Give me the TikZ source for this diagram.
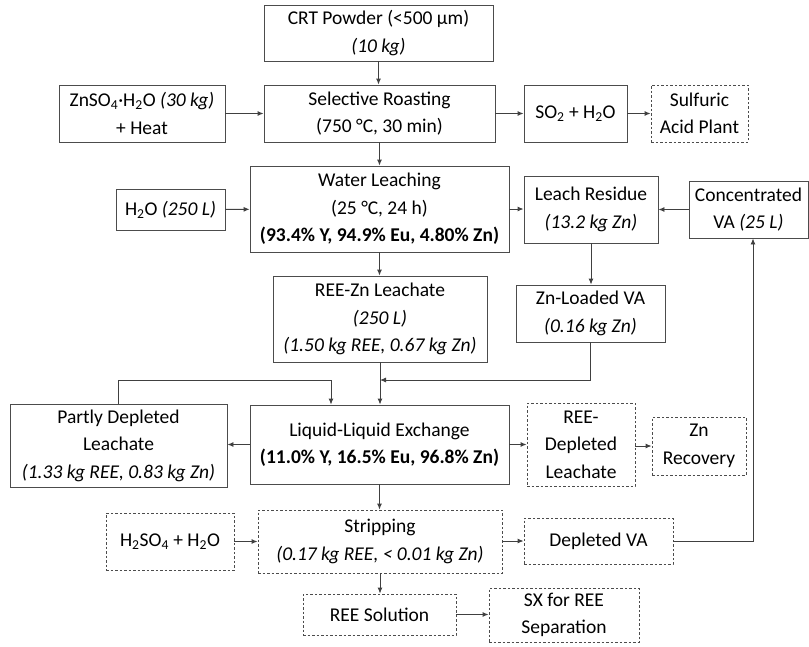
\documentclass[tikz,border=0pt]{standalone}
\usepackage{fontspec}
\setmainfont{Carlito}
\usetikzlibrary{arrows.meta,calc}
\begin{document}
\begin{tikzpicture}[x=1pt,y=-1pt,
  font=\fontsize{19.5}{27.5}\selectfont,
  bx/.style={draw=black!70, line width=0.9pt, align=center, inner sep=0pt, text=black},
  dbx/.style={bx, dash pattern=on 2.5pt off 2pt},
  ar/.style={draw=black!75, line width=0.9pt, -{Latex[length=6pt,width=5pt]}},
  ln/.style={draw=black!75, line width=0.9pt}]
\useasboundingbox (0,0) rectangle (809,646);
\newcommand\bxat[6]{\node[#1, minimum width=#4, minimum height=#5] (#2) at #3 {#6};}
\bxat{bx}{crt}{(378.5,33)}{229}{56}{CRT Powder (<500 µm)\\\textit{(10 kg)}}
\bxat{bx}{roast}{(379.5,113.5)}{231}{57}{Selective Roasting\\(750 °C, 30 min)}
\bxat{bx}{znso}{(142,113.5)}{166}{57}{ZnSO\textsubscript{4}\textperiodcentered H\textsubscript{2}O \textit{(30 kg)}\\+ Heat}
\bxat{bx}{so2}{(575.5,113.5)}{103}{57}{SO\textsubscript{2} + H\textsubscript{2}O}
\bxat{dbx}{sap}{(699.5,113.5)}{97}{57}{Sulfuric\\Acid Plant}
\bxat{bx}{wl}{(379.5,209)}{259}{86}{Water Leaching\\(25 °C, 24 h)\\\textbf{(93.4\% Y, 94.9\% Eu, 4.80\% Zn)}}
\bxat{bx}{h2o}{(170.5,209.5)}{109}{41}{H\textsubscript{2}O \textit{(250 L)}}
\bxat{bx}{lr}{(591,209.5)}{134}{67}{Leach Residue\\\textit{(13.2 kg Zn)}}
\bxat{bx}{cva}{(748.5,209.5)}{119}{57}{Concentrated\\VA \textit{(25 L)}}
\bxat{bx}{reezn}{(380,319)}{214}{86}{REE-Zn Leachate\\\textit{(250 L)}\\\textit{(1.50 kg REE, 0.67 kg Zn)}}
\bxat{bx}{znva}{(590.5,313.5)}{149}{57}{Zn-Loaded VA\\\textit{(0.16 kg Zn)}}
\bxat{bx}{pdl}{(118.5,445.5)}{217}{83}{Partly Depleted\\Leachate\\\textit{(1.33 kg REE, 0.83 kg Zn)}}
\bxat{bx}{lle}{(379.5,444.5)}{259}{79}{Liquid-Liquid Exchange\\\textbf{(11.0\% Y, 16.5\% Eu, 96.8\% Zn)}}
\bxat{dbx}{redl}{(581,444.5)}{108}{83}{REE-\\Depleted\\Leachate}
\bxat{dbx}{znr}{(699,446)}{94}{58}{Zn\\Recovery}
\bxat{dbx}{strip}{(380,541.5)}{244}{63}{Stripping\\\textit{(0.17 kg REE, < 0.01 kg Zn)}}
\bxat{dbx}{h2so}{(170,541.5)}{128}{57}{H\textsubscript{2}SO\textsubscript{4} + H\textsubscript{2}O}
\bxat{dbx}{dva}{(598.5,541)}{149}{46}{Depleted VA}
\bxat{dbx}{rees}{(379.5,614.5)}{153}{41}{REE Solution}
\bxat{dbx}{sx}{(564,615)}{150}{54}{SX for REE\\Separation}
% connectors
\draw[ar] (crt.south) -- (crt.south |- roast.north);
\draw[ar] (znso) -- (roast);
\draw[ar] (roast) -- (so2);
\draw[ar] (so2) -- (sap);
\draw[ar] (roast.south) -- (roast.south |- wl.north);
\draw[ar] (h2o) -- (wl);
\draw[ar] (wl.east) -- (wl.east -| lr.west);
\draw[ar] (cva.west) -- (cva.west -| lr.east);
\draw[ar] (lr.south) -- (lr.south |- znva.north);
\draw[ar] (wl.south) -- (wl.south |- reezn.north);
\draw[ar] (reezn.south) -- (reezn.south |- lle.north);
\coordinate (j1) at (380,380);
\draw[ar] (znva.south) |- (j1);
\coordinate (j2) at (331,380);
\draw[ar] (pdl.north) |- (j2) -- (j2 |- lle.north);
\draw[ar] (lle.west) -- (lle.west -| pdl.east);
\draw[ar] (lle.east) -- (lle.east -| redl.west);
\draw[ar] (redl.east |- znr.west) -- (znr.west);
\draw[ar] (lle.south) -- (lle.south |- strip.north);
\draw[ar] (h2so) -- (h2so -| strip.west);
\draw[ar] (strip.east |- dva.west) -- (dva.west);
\draw[ar] (strip.south) -- (strip.south |- rees.north);
\draw[ar] (rees.east) -- (rees.east -| sx.west);
\coordinate (j3) at (753,541);
\draw[ar] (dva.east) -- (j3) -- (j3 |- cva.south);
\end{tikzpicture}
\end{document}
